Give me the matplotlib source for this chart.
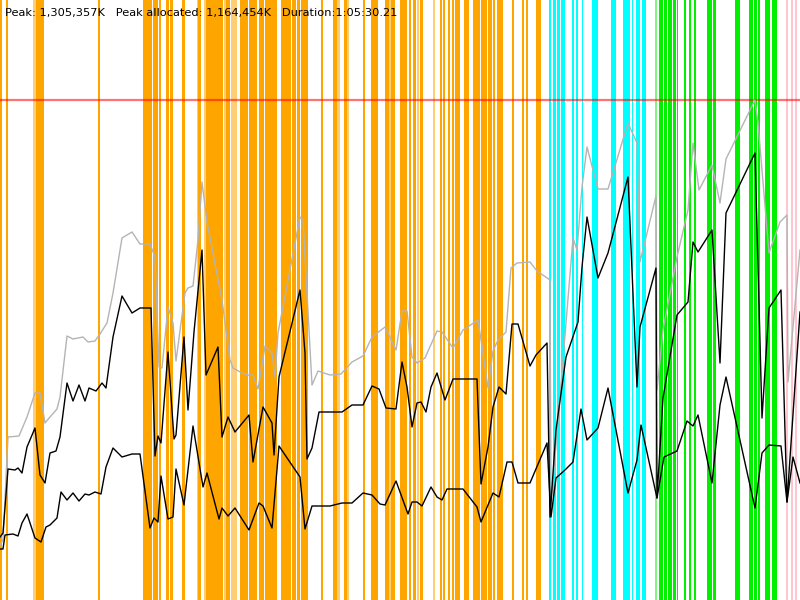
import matplotlib
matplotlib.use("Agg")
from matplotlib import pyplot as plt

# event bands (x start, x end) in time units of the plot
orange_spans = [(0, 2), (6, 7.5), (36, 44), (98, 100), (142.7, 146.7), (147.3, 152),
                (153, 158), (158.5, 160.5), (166, 169.3), (170, 173.3), (182, 185.3),
                (198, 201), (205.5, 219.5), (220, 223), (226, 230), (240, 247.5),
                (248.7, 256.7), (259.3, 264), (264.7, 276.7), (280.7, 291), (291.5, 296),
                (296.5, 300), (300.7, 308.3), (321, 322.7), (333.3, 337), (344, 347),
                (362.7, 365.3), (371.3, 378), (385, 389), (391, 395), (400, 407),
                (409, 411), (413, 416), (420, 423), (440, 441.5), (443, 445), (448, 450),
                (452, 454), (455, 460), (464, 469), (473, 480), (481, 487),
                (488, 492), (493, 495), (497, 503), (512, 514), (522, 524),
                (526, 528), (536, 541)]
orange_light = [(33, 35.5), (197.3, 198), (204, 205.5), (224, 225.5), (231, 236.7),
                (337, 340), (347, 349.3), (389, 391), (417, 418.5), (433, 435)]
cyan_spans = [(549, 550.5), (553, 556), (557, 560), (561, 565), (572, 573.5),
              (576, 578), (582, 583), (592, 598), (611, 615.5), (623, 630),
              (632, 633), (636, 640), (642, 646)]
green_spans = [(659, 663), (664, 667), (668, 672), (673, 675.5), (677, 678),
               (684, 686), (689, 691), (694, 695.5), (707, 712), (713, 716),
               (735, 740), (749, 753), (754, 757), (758, 760), (765, 770),
               (772, 777)]
green_light = [(655, 657)]
pink_spans = [(786, 788), (791, 792.5), (795, 797)]

peak_level = 100

alloc_x = [0, 3, 8, 19, 27, 35, 40, 45, 50, 57, 60, 67, 73, 83, 88, 95, 100, 107,
           113, 122, 132, 140, 150, 155, 159, 162, 168, 173, 176, 185, 188, 193,
           198, 202, 207, 222, 230, 233, 242, 248, 253, 258, 265, 272, 275, 278,
           300, 303, 312, 318, 330, 341, 352, 363, 372, 385, 396, 402, 407, 412,
           417, 425, 437, 442, 453, 463, 478, 483, 488, 493, 498, 506, 511, 517,
           530, 537, 550, 551, 573, 577, 582, 587, 598, 608, 628, 637, 640, 656,
           657, 663, 677, 688, 693, 699, 712, 720, 726, 755, 758, 769, 780, 787,
           788, 800]
alloc_y = [545, 540, 437, 436, 417, 393, 393, 423, 417, 409, 397, 336, 339, 337,
           342, 341, 334, 323, 293, 238, 232, 244, 244, 257, 367, 368, 307, 323,
           361, 293, 288, 286, 240, 182, 222, 300, 360, 368, 373, 375, 375, 389,
           346, 353, 377, 333, 217, 220, 385, 371, 375, 374, 362, 356, 337, 327,
           350, 311, 311, 357, 363, 358, 331, 332, 348, 330, 320, 353, 388, 351,
           340, 332, 268, 263, 262, 271, 280, 505, 238, 250, 187, 147, 189, 189,
           123, 143, 262, 196, 390, 330, 257, 210, 143, 190, 165, 203, 159, 100,
           123, 253, 222, 215, 382, 250]

high_x = [0, 3, 8, 15, 18, 22, 27, 35, 40, 45, 50, 56, 60, 67, 73, 79, 85, 89,
          96, 102, 106, 113, 122, 132, 140, 151, 155, 158, 161, 168, 174, 176,
          184, 188, 194, 202, 206, 218, 222, 228, 235, 249, 253, 263, 272, 274,
          279, 300, 305, 307, 312, 319, 342, 352, 363, 372, 379, 386, 396, 402,
          407, 412, 417, 421, 426, 431, 437, 445, 453, 477, 481, 488, 493, 499,
          506, 512, 518, 530, 536, 547, 550, 556, 566, 578, 582, 587, 598, 608,
          628, 637, 640, 656, 657, 663, 677, 688, 693, 698, 712, 720, 726, 755,
          762, 769, 781, 787, 800]
high_y = [537, 533, 469, 470, 468, 473, 447, 428, 475, 483, 453, 451, 437, 383,
          401, 385, 401, 388, 391, 383, 388, 337, 296, 313, 308, 308, 456, 436,
          443, 352, 439, 435, 337, 410, 332, 250, 375, 347, 437, 417, 432, 415,
          462, 407, 423, 455, 377, 290, 353, 459, 448, 412, 412, 405, 405, 386,
          389, 408, 409, 362, 387, 427, 403, 402, 412, 387, 373, 400, 379, 379,
          484, 447, 407, 387, 394, 324, 324, 366, 355, 343, 517, 430, 357, 322,
          267, 217, 278, 253, 177, 387, 327, 268, 498, 398, 315, 302, 242, 252,
          230, 363, 213, 153, 418, 308, 290, 502, 312]

low_x = [0, 3, 5, 13, 18, 22, 27, 35, 41, 46, 50, 57, 61, 67, 73, 79, 85, 89,
         95, 101, 106, 113, 122, 132, 140, 150, 154, 158, 161, 168, 173, 176,
         184, 193, 203, 207, 219, 222, 228, 235, 249, 259, 263, 272, 279, 300,
         305, 312, 330, 342, 352, 363, 372, 380, 385, 396, 408, 412, 417, 422,
         431, 437, 442, 447, 463, 477, 481, 488, 493, 499, 507, 512, 518, 530,
         547, 551, 556, 565, 573, 581, 587, 598, 608, 628, 637, 641, 657, 664,
         677, 687, 693, 698, 712, 720, 726, 755, 762, 769, 781, 787, 793, 800]
low_y = [549, 549, 535, 534, 536, 523, 514, 538, 542, 527, 525, 518, 492, 500,
         493, 501, 494, 495, 492, 494, 467, 448, 457, 454, 454, 528, 518, 522,
         476, 519, 517, 469, 505, 426, 487, 473, 519, 508, 516, 508, 530, 503,
         506, 528, 446, 477, 529, 506, 506, 503, 503, 493, 495, 504, 505, 481,
         514, 502, 502, 506, 487, 497, 500, 489, 489, 507, 522, 505, 493, 497,
         462, 462, 483, 483, 443, 517, 478, 470, 462, 409, 440, 428, 388, 493,
         460, 425, 498, 457, 451, 421, 426, 415, 483, 405, 377, 508, 453, 445,
         446, 502, 457, 483]


def plot():
    fig = plt.figure(figsize=(8, 6), dpi=100)
    ax = fig.add_axes([0, 0, 1, 1])
    ax.set_xlim(0, 800)
    ax.set_ylim(600, 0)
    ax.axis("off")

    bands = [(orange_spans, "#ffa500", 1.0), (orange_light, "#ffa500", 0.55),
             (cyan_spans, "#00ffff", 1.0), (green_spans, "#00f000", 1.0),
             (green_light, "#00f000", 0.5), (pink_spans, "#ffc0cb", 0.9)]
    for spans, color, alpha in bands:
        for a, b in spans:
            ax.axvspan(a, b, color=color, alpha=alpha, lw=0, zorder=1)

    ax.axhline(peak_level, color="red", alpha=0.55, lw=1.6, zorder=2)

    ax.plot(alloc_x, alloc_y, color="#b4b4b4", lw=1.0, zorder=3)
    ax.plot(high_x, high_y, color="black", lw=1.0, zorder=4)
    ax.plot(low_x, low_y, color="black", lw=1.0, zorder=4)

    ax.text(5, 13, "Peak: 1,305,357K   Peak allocated: 1,164,454K   Duration:1:05:30.21",
            fontsize=8.2, va="center", ha="left", color="black", zorder=5)

    fig.savefig("out.png", dpi=100)


plot()
